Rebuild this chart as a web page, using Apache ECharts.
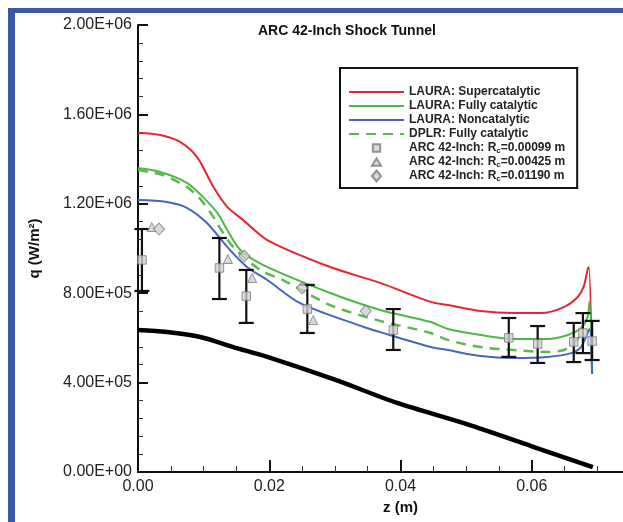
<!DOCTYPE html>
<html>
<head>
<meta charset="utf-8">
<script src="https://cdn.jsdelivr.net/npm/echarts@6/dist/echarts.min.js"></script>
<style>
html,body{margin:0;padding:0;background:#fff;}
#chart{width:623px;height:522px;}
</style>
</head>
<body>
<div id="chart"></div>
<script>
// ---- data (z in m, q in W/m^2) ----
const superZ = [0, 0.0034, 0.0064, 0.0090, 0.0115, 0.0136, 0.0160, 0.0197, 0.0293, 0.0369, 0.0446, 0.0472, 0.0522, 0.0573, 0.0614, 0.0649, 0.0670, 0.0679, 0.0685, 0.0687, 0.0692];
const superQ = [1.517e6, 1.508e6, 1.477e6, 1.409e6, 1.275e6, 1.186e6, 1.128e6, 1.038e6, 0.917e6, 0.846e6, 0.761e6, 0.747e6, 0.720e6, 0.711e6, 0.711e6, 0.738e6, 0.783e6, 0.828e6, 0.904e6, 0.917e6, 0.44e6];

const fullZ = [0, 0.0034, 0.0075, 0.0099, 0.0121, 0.0136, 0.0156, 0.0191, 0.0293, 0.0369, 0.0446, 0.0472, 0.0522, 0.0573, 0.0624, 0.0655, 0.0675, 0.0685, 0.0688, 0.0692];
const fullQ = [1.360e6, 1.342e6, 1.293e6, 1.230e6, 1.159e6, 1.083e6, 0.993e6, 0.926e6, 0.801e6, 0.725e6, 0.671e6, 0.640e6, 0.613e6, 0.595e6, 0.595e6, 0.613e6, 0.644e6, 0.694e6, 0.761e6, 0.44e6];

const nonZ = [0, 0.0044, 0.0075, 0.0105, 0.0136, 0.0166, 0.0197, 0.0247, 0.0344, 0.0369, 0.0446, 0.0472, 0.0522, 0.0573, 0.0624, 0.0660, 0.0675, 0.0685, 0.0688, 0.0692];
const nonQ = [1.217e6, 1.208e6, 1.181e6, 1.114e6, 1.007e6, 0.917e6, 0.859e6, 0.756e6, 0.649e6, 0.626e6, 0.559e6, 0.546e6, 0.519e6, 0.510e6, 0.515e6, 0.532e6, 0.559e6, 0.622e6, 0.640e6, 0.44e6];

const dplrZ = [0, 0.0038, 0.0064, 0.0075, 0.0095, 0.0115, 0.0122, 0.0145, 0.0176, 0.0191, 0.0221, 0.0293, 0.0369, 0.0446, 0.0472, 0.0522, 0.0573, 0.0624, 0.0649, 0.0664, 0.0675];
const dplrQ = [1.351e6, 1.329e6, 1.293e6, 1.275e6, 1.221e6, 1.141e6, 1.105e6, 1.007e6, 0.926e6, 0.895e6, 0.859e6, 0.747e6, 0.676e6, 0.622e6, 0.591e6, 0.559e6, 0.546e6, 0.537e6, 0.546e6, 0.577e6, 0.613e6];

const blackZ = [0, 0.0044, 0.0095, 0.0145, 0.0197, 0.0300, 0.0395, 0.0500, 0.0600, 0.0693];
const blackQ = [0.635e6, 0.626e6, 0.604e6, 0.559e6, 0.515e6, 0.413e6, 0.309e6, 0.215e6, 0.115e6, 0.022e6];

// ARC 42-inch, Rc = 0.00099 m (squares with error bars)
const sqZ  = [0.0006, 0.0124, 0.0165, 0.0258, 0.0389, 0.0565, 0.0609, 0.0664, 0.0678, 0.0692];
const sqQ  = [0.949e6, 0.913e6, 0.787e6, 0.729e6, 0.635e6, 0.600e6, 0.573e6, 0.582e6, 0.622e6, 0.586e6];
const sqLo = [0.810e6, 0.774e6, 0.667e6, 0.622e6, 0.546e6, 0.515e6, 0.488e6, 0.492e6, 0.532e6, 0.501e6];
const sqHi = [1.087e6, 1.047e6, 0.904e6, 0.837e6, 0.729e6, 0.689e6, 0.653e6, 0.667e6, 0.711e6, 0.676e6];

// Rc = 0.00425 m (triangles)
const triZ = [0.0021, 0.0137, 0.0174, 0.0267];
const triQ = [1.096e6, 0.953e6, 0.868e6, 0.680e6];

// Rc = 0.01190 m (diamonds)
const diaZ = [0.0032, 0.0162, 0.0250, 0.0347];
const diaQ = [1.087e6, 0.966e6, 0.823e6, 0.720e6];

const xTicks = [0, 0.02, 0.04, 0.06];
const yTicks = [0, 4e5, 8e5, 1.2e6, 1.6e6, 2e6];

const names = ['LAURA: Supercatalytic', 'LAURA: Fully catalytic', 'LAURA: Noncatalytic', 'DPLR: Fully catalytic',
  'ARC 42-Inch: Rc=0.00099 m', 'ARC 42-Inch: Rc=0.00425 m', 'ARC 42-Inch: Rc=0.01190 m'];

// ---- helpers ----
const zip = (a, b) => a.map((v, i) => [v, b[i]]);
function fmtE(v) {
  if (v === 0) return '0.00E+00';
  const e = Math.floor(Math.log10(Math.abs(v)) + 1e-9);
  const m = v / Math.pow(10, e);
  return m.toFixed(2) + 'E' + (e < 0 ? '-' : '+') + String(Math.abs(e)).padStart(2, '0');
}

const chart = echarts.init(document.getElementById('chart'), null, {renderer: 'canvas'});
const FONT = '"Liberation Sans", Arial, Helvetica, sans-serif';
const markerStyle = {color: '#cfcfcf', borderColor: '#7c7c7c', borderWidth: 1};
const legendIcons = [null, null, null, null,
  'path://M0,0M12,12M2,2H10V10H2Z', 'path://M0,0M12,12M6,2L11,10H1Z', 'path://M0,0M12,12M6,0L11,6L6,12L1,6Z'];

const option = {
  backgroundColor: '#ffffff',
  animation: false,
  textStyle: {fontFamily: FONT},
  graphic: [
    {type: 'rect', z: 100, shape: {x: 8, y: 8, width: 7, height: 600}, style: {fill: '#3d58a8'}},
    {type: 'rect', z: 100, shape: {x: 8, y: 8, width: 700, height: 5}, style: {fill: '#3d58a8'}}
  ],
  title: {
    text: 'ARC 42-Inch Shock Tunnel',
    left: 253, top: 19,
    textStyle: {fontFamily: FONT, fontSize: 14, fontWeight: 'bold', color: '#111'}
  },
  legend: {
    data: names.map((n, i) => i < 4 ? {name: n, itemStyle: {opacity: 0}} : {name: n, icon: legendIcons[i]}),
    orient: 'vertical',
    left: 340, top: 68,
    padding: [17, 12, 5, 8],
    itemGap: 0,
    itemWidth: 55,
    itemHeight: 11,
    symbolKeepAspect: true,
    borderColor: '#111',
    borderWidth: 2,
    backgroundColor: '#fff',
    selectedMode: false,
    formatter: function (n) { return n.replace('Rc=', 'R{sub|c}='); },
    textStyle: {
      fontFamily: FONT, fontSize: 12, fontWeight: 'bold', color: '#222', lineHeight: 14,
      rich: {sub: {fontSize: 8, fontWeight: 'bold', verticalAlign: 'bottom', lineHeight: 9, color: '#222'}}
    }
  },
  grid: {left: 138, top: 25, width: 525, height: 447, containLabel: false, outerBoundsMode: 'none'},
  xAxis: {
    type: 'value', min: 0, max: 0.08, interval: 0.02,
    name: 'z (m)', nameLocation: 'middle', nameGap: 26,
    nameTextStyle: {fontFamily: FONT, fontSize: 15, fontWeight: 'bold', color: '#111', padding: [0, 0, 0, 0]},
    axisLine: {lineStyle: {color: '#111', width: 2}},
    axisTick: {inside: true, length: 12, lineStyle: {color: '#111', width: 2}},
    minorTick: {show: true, splitNumber: 4, length: 6, lineStyle: {color: '#333', width: 1}},
    axisLabel: {
      margin: 7, fontFamily: FONT, fontSize: 16, color: '#222',
      formatter: v => xTicks.some(t => Math.abs(t - v) < 1e-9) ? v.toFixed(2) : ''
    },
    splitLine: {show: false}
  },
  yAxis: {
    type: 'value', min: 0, max: 2e6, interval: 4e5,
    name: 'q (W/m²)', nameLocation: 'middle', nameGap: 96,
    nameTextStyle: {fontFamily: FONT, fontSize: 15, fontWeight: 'bold', color: '#111'},
    axisLine: {show: true, lineStyle: {color: '#111', width: 2}},
    axisTick: {show: true, inside: true, length: 10, lineStyle: {color: '#111', width: 2}},
    minorTick: {show: true, splitNumber: 5, length: 5, lineStyle: {color: '#333', width: 1}},
    axisLabel: {
      margin: 6, fontFamily: FONT, fontSize: 16, color: '#222',
      formatter: v => yTicks.some(t => Math.abs(t - v) < 1) ? fmtE(v) : ''
    },
    splitLine: {show: false}
  },
  series: [
    {
      name: 'black', type: 'line', data: zip(blackZ, blackQ), symbol: 'none', smooth: 0.3,
      lineStyle: {color: '#000', width: 4.5}, z: 2
    },
    {
      name: names[0], type: 'line', data: zip(superZ, superQ), symbol: 'none', smooth: 0.3,
      lineStyle: {color: '#e32636', width: 2}, itemStyle: {color: '#e32636'}, z: 3
    },
    {
      name: names[1], type: 'line', data: zip(fullZ, fullQ), symbol: 'none', smooth: 0.3,
      lineStyle: {color: '#4cb848', width: 2}, itemStyle: {color: '#4cb848'}, z: 4
    },
    {
      name: names[2], type: 'line', data: zip(nonZ, nonQ), symbol: 'none', smooth: 0.3,
      lineStyle: {color: '#4466bb', width: 2}, itemStyle: {color: '#4466bb'}, z: 5
    },
    {
      name: names[3], type: 'line', data: zip(dplrZ, dplrQ), symbol: 'none', smooth: 0.3,
      lineStyle: {color: '#5cb84e', width: 2.5, type: [10, 7]}, itemStyle: {color: '#5cb84e'}, z: 4
    },
    {
      name: 'errbars', type: 'custom', z: 6,
      data: sqZ.map((z, i) => [z, sqLo[i], sqHi[i]]),
      encode: {x: 0, y: [1, 2]},
      renderItem: function (params, api) {
        const lo = api.coord([api.value(0), api.value(1)]);
        const hi = api.coord([api.value(0), api.value(2)]);
        const w = 7.5;
        const st = {stroke: '#111', lineWidth: 2.2};
        return {
          type: 'group',
          children: [
            {type: 'line', shape: {x1: lo[0], y1: lo[1], x2: hi[0], y2: hi[1]}, style: st},
            {type: 'line', shape: {x1: lo[0] - w, y1: lo[1], x2: lo[0] + w, y2: lo[1]}, style: st},
            {type: 'line', shape: {x1: hi[0] - w, y1: hi[1], x2: hi[0] + w, y2: hi[1]}, style: st}
          ]
        };
      }
    },
    {
      name: names[4], type: 'scatter', data: zip(sqZ, sqQ), symbol: 'rect', symbolSize: 8.5,
      itemStyle: markerStyle, z: 7
    },
    {
      name: names[5], type: 'scatter', data: zip(triZ, triQ), symbol: 'triangle', symbolSize: 9,
      itemStyle: markerStyle, z: 7
    },
    {
      name: names[6], type: 'scatter', data: zip(diaZ, diaQ), symbol: 'diamond', symbolSize: [11, 12],
      itemStyle: markerStyle, z: 7
    }
  ]
};
chart.setOption(option);
</script>
</body>
</html>
